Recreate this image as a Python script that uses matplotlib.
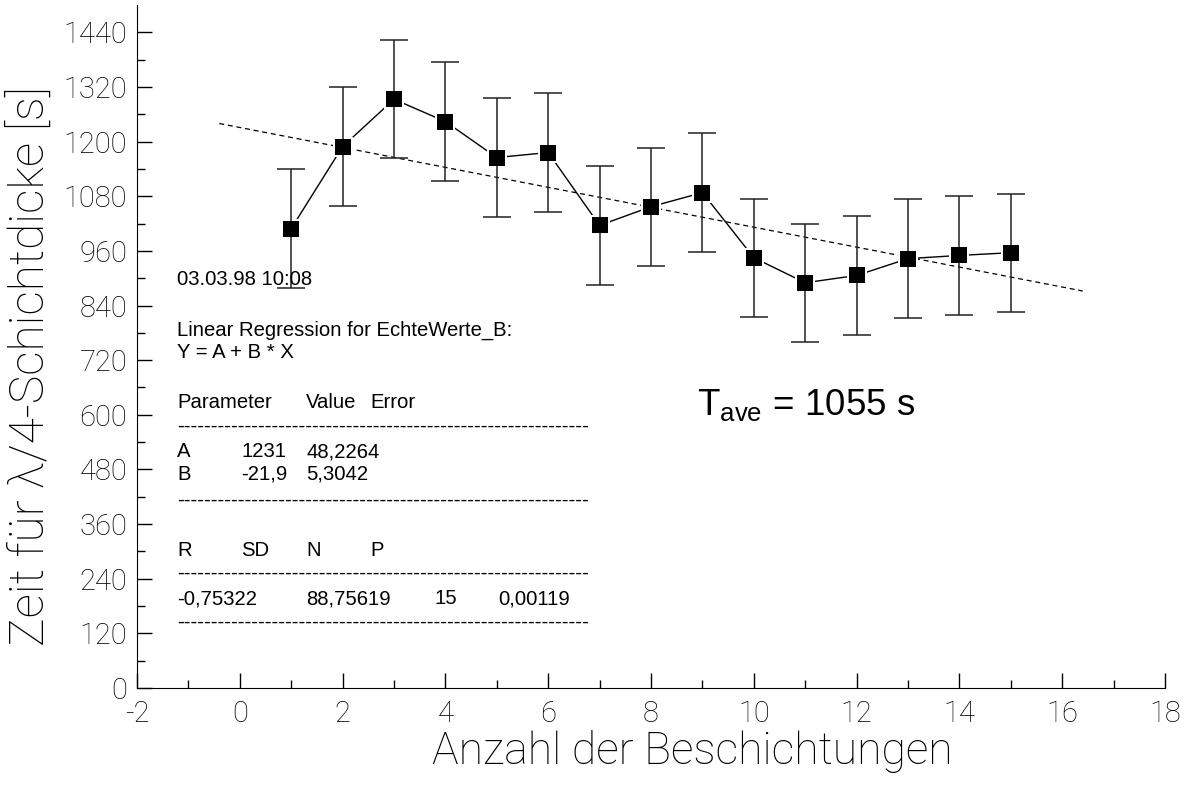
"""plot.py

Zeit fuer lambda/4-Schichtdicke vs. Anzahl der Beschichtungen,
with linear regression (Origin-style report block).
"""
import numpy as np
import matplotlib
matplotlib.use('Agg')
from matplotlib import pyplot as plt


#
# Data
#
anzahl = [1, 2, 3, 4, 5, 6, 7, 8, 9, 10, 11, 12, 13, 14, 15]
zeit = [1009, 1189, 1293, 1244, 1165, 1176, 1016, 1057, 1088,
        945, 890, 906, 943, 950, 956]
fehler = [130] * 15

## regression parameters from the report
A = 1231
B = -21.9
fit_x = np.array([-0.4, 16.4])

xticks = [-2, 0, 2, 4, 6, 8, 10, 12, 14, 16, 18]
yticks = [0, 120, 240, 360, 480, 600, 720, 840, 960, 1080, 1200, 1320, 1440]

report_font = 'Liberation Sans'
main_font = ['Roboto', 'DejaVu Sans']


#
# Plot
#
plt.rcParams['mathtext.default'] = 'regular'
plt.rcParams['axes.unicode_minus'] = False
fig = plt.figure(figsize=(11.89, 7.87), dpi=100)
ax = fig.add_axes([137/1189, 1-688/787, 1028/1189, 683/787])

## connecting line, with a white gap around the markers
ax.plot(anzahl, zeit, '-', color='black', lw=1, zorder=1)
ax.plot(anzahl, zeit, 's', color='white', ms=15, mew=0, zorder=2)
ax.errorbar(anzahl, zeit, yerr=fehler, fmt='none', ecolor='#222222',
            elinewidth=1.1, capsize=10, capthick=1.1, zorder=3)
ax.plot(anzahl, zeit, 's', color='black', ms=11, mew=0, zorder=4)

## regression line
ax.plot(fit_x, A + B*fit_x, '--', color='black', lw=0.9, dashes=(4, 3),
        zorder=1)

ax.set_xlim(-2, 18)
ax.set_ylim(0, 1500)
ax.set_xticks(xticks)
ax.set_yticks(yticks)
ax.set_xticks(np.arange(-1, 18, 2), minor=True)
ax.set_yticks(np.arange(60, 1500, 120), minor=True)
ax.spines['top'].set_visible(False)
ax.spines['right'].set_visible(False)
ax.tick_params(which='major', direction='in', length=11, width=1, pad=7)
ax.tick_params(axis='x', which='major', pad=9)
ax.tick_params(which='minor', direction='in', length=5.5, width=1)
for lab in ax.get_xticklabels() + ax.get_yticklabels():
    lab.set_family(main_font)
    lab.set_fontweight('light')
    lab.set_fontsize(21)

ax.set_xlabel('Anzahl der Beschichtungen', family=main_font,
              fontweight='light', fontsize=32)
ax.set_ylabel('Zeit für λ/4-Schichtdicke [s]', family=main_font,
              fontweight='light', fontsize=34.5)
ax.xaxis.set_label_coords(0.54, -0.062)
ax.yaxis.set_label_coords(-0.081, 0.472)


#
# Regression report
#
dashes = '-' * 61
col = {'a': -1.222, 'b': 0.03, 'c': 1.29, 'd': 2.54, 'e': 3.79, 'f': 5.02}
report = [
    (col['a'], 901, '03.03.98 10:08'),
    (col['a'], 789, 'Linear Regression for EchteWerte_B:'),
    (col['a'], 741, 'Y = A + B * X'),
    (col['a'], 631, 'Parameter'), (col['c'], 631, 'Value'),
    (col['d'], 631, 'Error'),
    (col['a'], 576, dashes),
    (col['a'], 523, 'A'), (col['b'], 523, '1231'), (col['c'], 523, '48,2264'),
    (col['a'], 473, 'B'), (col['b'], 473, '-21,9'), (col['c'], 473, '5,3042'),
    (col['a'], 413, dashes),
    (col['a'], 306, 'R'), (col['b'], 306, 'SD'), (col['c'], 306, 'N'),
    (col['d'], 306, 'P'),
    (col['a'], 253, dashes),
    (col['a'], 200, '-0,75322'), (col['c'], 200, '88,75619'),
    (col['e'], 200, '15'), (col['f'], 200, '0,00119'),
    (col['a'], 145, dashes),
]
for x, y, s in report:
    ## rows are given by their visual centre; shift to the baseline
    shift = 13 if s.startswith('---') else 16
    ax.text(x, y - shift, s, family=report_font, fontsize=14.6, ha='left',
            va='baseline', zorder=5)

ax.text(8.9, 600, r'T$_{ave}$ = 1055 s', family=report_font, fontsize=26.5,
        ha='left', va='baseline')

plt.savefig('out.png', dpi=100)
